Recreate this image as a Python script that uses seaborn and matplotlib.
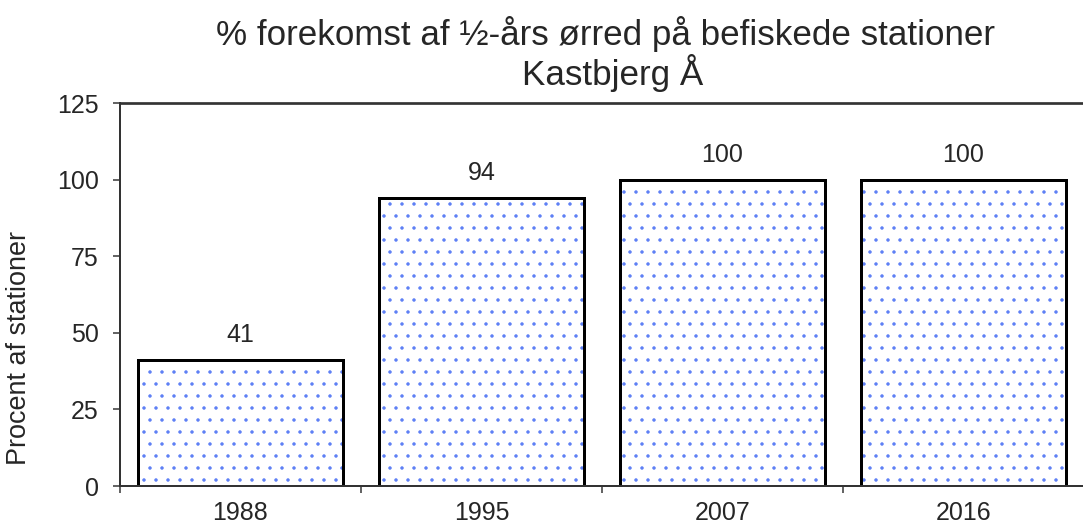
import matplotlib
matplotlib.use("Agg")
import matplotlib.pyplot as plt
import seaborn as sns
import pandas as pd
from matplotlib.patches import Rectangle

years = ["1988", "1995", "2007", "2016"]
pct = [41, 94, 100, 100]
title1 = "% forekomst af ½-års ørred på befiskede stationer"
title2 = "Kastbjerg Å"

sns.set_style("white")
plt.rcParams['font.family'] = ['Liberation Sans', 'DejaVu Sans']
plt.rcParams['hatch.linewidth'] = 1.0

df = pd.DataFrame({"year": years, "pct": pct})

# dpi 72 -> 1 pt = 1 px, and the '.' hatch gets a ~12 px dot grid
W, H = 1083, 526
fig = plt.figure(figsize=(W / 72, H / 72), dpi=72)
ax = fig.add_axes([120 / W, 40 / H, 964 / W, 383 / H])

sns.barplot(data=df, x="year", y="pct", color="white", width=0.85,
            edgecolor="black", linewidth=3, ax=ax)

# dotted fill under a black outline
for p in list(ax.patches):
    r = Rectangle((p.get_x(), p.get_y()), p.get_width(), p.get_height(),
                  facecolor="none", edgecolor="#5b7df5", hatch=".",
                  linewidth=0, zorder=p.get_zorder() + 0.1)
    ax.add_patch(r)
    o = Rectangle((p.get_x(), p.get_y()), p.get_width(), p.get_height(),
                  facecolor="none", edgecolor="black", linewidth=3,
                  zorder=p.get_zorder() + 0.2)
    ax.add_patch(o)

fs = 25
for i, v in enumerate(pct):
    ax.text(i, v + 5.9, str(v), ha="center", va="baseline", fontsize=fs)

ax.set_ylim(0, 125)
ax.set_xlim(-0.5, 3.5)
ax.set_yticks([0, 25, 50, 75, 100, 125])
ax.set_xticks([-0.5, 0.5, 1.5, 2.5], minor=True)
ax.tick_params(axis="x", which="major", length=0, labelsize=fs, pad=15)
ax.tick_params(axis="x", which="minor", length=7, width=1.5, direction="out",
               bottom=True, color="#333333")
ax.tick_params(axis="y", length=7, width=1.5, direction="out", left=True,
               labelsize=fs, pad=14, color="#333333")
ax.set_xlabel("")
ax.set_ylabel("Procent af stationer", fontsize=27)
ax.yaxis.set_label_coords(-88 / 964, (486 - 348) / 383)

for s in ["left", "bottom", "top"]:
    ax.spines[s].set_color("#333333")
    ax.spines[s].set_linewidth(2)
ax.spines["top"].set_linewidth(2.7)
ax.spines["right"].set_visible(False)

fig.text(606 / W, 1 - 45 / H, title1, ha="center", va="baseline", fontsize=35)
fig.text(613 / W, 1 - 85 / H, title2, ha="center", va="baseline", fontsize=35)

fig.savefig("out.png", dpi=72)
